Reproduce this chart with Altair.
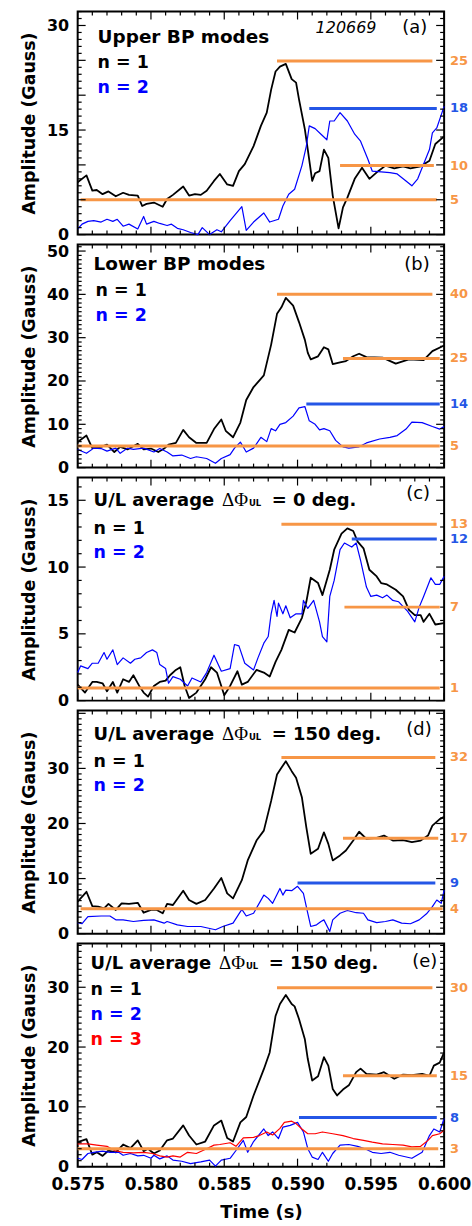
import altair as alt
import pandas as pd

FONT = "DejaVu Sans"
W, H = 368, 224
T_MIN, T_MAX = 0.575, 0.600
ORANGE = "#F79646"
BLUE_LEVEL = "#2456E6"
BLUE = "#0000FF"
RED = "#FF0000"

X_MAJOR = [0.575, 0.580, 0.585, 0.590, 0.595, 0.600]
X_MINOR = [0.576, 0.577, 0.578, 0.579, 0.581, 0.582, 0.583, 0.584, 0.586, 0.587,
           0.588, 0.589, 0.591, 0.592, 0.593, 0.594, 0.596, 0.597, 0.598, 0.599]

# ---------------- panel (a) ----------------
A_YMAX = 32
A_YLABELS = [0, 15, 30]
A_YMAJOR = [0, 5, 10, 15, 20, 25, 30]
A_N1_T = [0.5750, 0.5756, 0.5760, 0.5763, 0.5767, 0.5771, 0.5776, 0.5781, 0.5785, 0.5791,
          0.5794, 0.5797, 0.5802, 0.5808, 0.5811, 0.5815, 0.5822, 0.5826, 0.5830, 0.5834,
          0.5838, 0.5843, 0.5847, 0.5852, 0.5856, 0.5860, 0.5864, 0.5870, 0.5875, 0.5879,
          0.5882, 0.5885, 0.5888, 0.5892, 0.5896, 0.5899, 0.5901, 0.5905, 0.5907, 0.5910,
          0.5912, 0.5915, 0.5918, 0.5921, 0.5924, 0.5928, 0.5931, 0.5934, 0.5939, 0.5944,
          0.5949, 0.5955, 0.5960, 0.5966, 0.5972, 0.5977, 0.5984, 0.5990, 0.5994, 0.6000]
A_N1_V = [7.5, 8.5, 6.3, 6.4, 5.8, 6.2, 5.5, 6.0, 5.7, 5.6,
          4.1, 4.4, 4.6, 4.0, 5.1, 5.7, 6.9, 5.6, 5.8, 5.7,
          6.3, 7.7, 8.7, 7.2, 7.0, 9.1, 10.1, 12.7, 15.6, 17.5,
          20.8, 23.4, 24.1, 24.5, 22.3, 21.8, 19.4, 15.1, 12.2, 7.7,
          8.8, 9.1, 12.2, 11.0, 5.6, 0.9, 3.9, 5.3, 8.0, 9.6,
          8.0, 9.1, 9.9, 9.5, 9.8, 9.5, 9.8, 10.6, 13.0, 14.1]
A_N2_T = [0.5750, 0.5753, 0.5757, 0.5761, 0.5766, 0.5770, 0.5774, 0.5777, 0.5781, 0.5785,
          0.5791, 0.5795, 0.5797, 0.5802, 0.5806, 0.5811, 0.5814, 0.5818, 0.5822, 0.5827,
          0.5832, 0.5835, 0.5840, 0.5845, 0.5848, 0.5854, 0.5862, 0.5865, 0.5870, 0.5877,
          0.5881, 0.5887, 0.5890, 0.5894, 0.5898, 0.5903, 0.5906, 0.5908, 0.5912, 0.5916,
          0.5920, 0.5922, 0.5925, 0.5929, 0.5934, 0.5939, 0.5943, 0.5948, 0.5951, 0.5957,
          0.5963, 0.5968, 0.5974, 0.5978, 0.5982, 0.5985, 0.5990, 0.5992, 0.5995, 0.6000]
A_N2_V = [0.8, 1.5, 1.9, 2.0, 1.8, 2.2, 1.9, 2.2, 1.2, 1.5,
          0.8, 2.6, 1.5, 1.9, 1.6, 1.3, 1.5, 0.9, 0.7, 0.3,
          0.0, 1.0, 0.0, 0.7, 0.4, 2.0, 4.0, 0.6, 1.8, 3.1,
          1.8, 2.2, 4.1, 5.8, 6.5, 9.9, 12.7, 15.6, 15.2, 14.4,
          13.6, 16.3, 16.3, 17.5, 16.3, 14.4, 13.4, 10.8, 9.1, 9.0,
          8.9, 8.7, 7.7, 7.0, 8.0, 9.6, 12.2, 14.6, 15.3, 18.4]
A_ORANGE_V = [24.9, 9.9, 5.0]
A_ORANGE_T0 = [0.5886, 0.5929, 0.5752]
A_ORANGE_T1 = [0.5992, 0.5993, 0.5995]
A_ORANGE_LBL = ["25", "10", "5"]
A_BLUE_V = [18.1]
A_BLUE_T0 = [0.5908]
A_BLUE_T1 = [0.5995]
A_BLUE_LBL = ["18"]

# ---------------- panel (b) ----------------
B_YMAX = 51.5
B_YLABELS = [0, 10, 20, 30, 40, 50]
B_YMAJOR = [0, 10, 20, 30, 40, 50]
B_N1_T = [0.5750, 0.5756, 0.5760, 0.5766, 0.5770, 0.5775, 0.5779, 0.5784, 0.5791, 0.5795,
          0.5800, 0.5805, 0.5809, 0.5812, 0.5817, 0.5822, 0.5826, 0.5831, 0.5838, 0.5843,
          0.5848, 0.5851, 0.5856, 0.5861, 0.5865, 0.5870, 0.5877, 0.5882, 0.5886, 0.5889,
          0.5892, 0.5897, 0.5901, 0.5905, 0.5907, 0.5909, 0.5914, 0.5918, 0.5921, 0.5924,
          0.5929, 0.5933, 0.5938, 0.5942, 0.5947, 0.5958, 0.5967, 0.5976, 0.5986, 0.5992,
          0.6000]
B_N1_V = [5.9, 7.4, 4.5, 4.8, 5.3, 3.6, 4.8, 4.2, 5.5, 4.2,
          4.4, 3.6, 4.4, 5.3, 5.7, 8.7, 7.0, 5.7, 5.7, 8.9,
          11.1, 8.5, 7.0, 10.4, 15.6, 18.6, 21.3, 28.4, 35.5, 37.0,
          39.2, 37.4, 33.6, 29.5, 26.5, 25.0, 25.7, 27.8, 27.3, 23.9,
          24.3, 24.6, 25.7, 26.3, 25.5, 25.4, 24.0, 25.0, 24.8, 26.9,
          28.2]
B_N2_T = [0.5750, 0.5756, 0.5761, 0.5766, 0.5770, 0.5776, 0.5779, 0.5784, 0.5788, 0.5795,
          0.5802, 0.5806, 0.5811, 0.5815, 0.5821, 0.5827, 0.5831, 0.5838, 0.5844, 0.5848,
          0.5854, 0.5857, 0.5861, 0.5865, 0.5870, 0.5875, 0.5879, 0.5882, 0.5885, 0.5888,
          0.5892, 0.5897, 0.5901, 0.5905, 0.5908, 0.5912, 0.5915, 0.5918, 0.5922, 0.5926,
          0.5931, 0.5935, 0.5942, 0.5947, 0.5956, 0.5963, 0.5968, 0.5974, 0.5978, 0.5985,
          0.5992, 0.5997, 0.6000]
B_N2_V = [4.2, 3.3, 4.5, 4.4, 3.8, 4.5, 3.3, 4.5, 4.2, 4.5,
          3.6, 4.4, 3.6, 2.7, 2.9, 2.1, 2.5, 2.1, 1.0, 2.1,
          3.0, 4.5, 5.9, 3.6, 4.5, 7.0, 6.0, 9.0, 8.5, 10.0,
          10.4, 11.9, 13.8, 14.1, 10.8, 10.0, 8.7, 9.0, 8.5, 6.3,
          4.8, 4.5, 4.8, 5.7, 6.6, 7.0, 7.4, 8.9, 10.5, 10.4,
          9.5, 8.9, 9.5]
B_ORANGE_V = [40.0, 25.2, 5.0]
B_ORANGE_T0 = [0.5886, 0.5931, 0.5750]
B_ORANGE_T1 = [0.5992, 0.5997, 0.5997]
B_ORANGE_LBL = ["40", "25", "5"]
B_BLUE_V = [14.7]
B_BLUE_T0 = [0.5906]
B_BLUE_T1 = [0.5997]
B_BLUE_LBL = ["14"]

# ---------------- panel (c) ----------------
C_YMAX = 16.7
C_YLABELS = [0, 5, 10, 15]
C_YMAJOR = [0, 5, 10, 15]
C_N1_T = [0.5750, 0.5755, 0.5760, 0.5763, 0.5767, 0.5770, 0.5774, 0.5777, 0.5781, 0.5785,
          0.5788, 0.5792, 0.5795, 0.5798, 0.5802, 0.5806, 0.5810, 0.5813, 0.5817, 0.5820,
          0.5823, 0.5826, 0.5831, 0.5837, 0.5841, 0.5845, 0.5850, 0.5854, 0.5859, 0.5862,
          0.5866, 0.5872, 0.5877, 0.5881, 0.5885, 0.5889, 0.5894, 0.5898, 0.5903, 0.5906,
          0.5909, 0.5914, 0.5917, 0.5922, 0.5925, 0.5930, 0.5934, 0.5938, 0.5941, 0.5945,
          0.5949, 0.5954, 0.5957, 0.5961, 0.5967, 0.5972, 0.5976, 0.5980, 0.5984, 0.5986,
          0.5990, 0.5994, 0.6000]
C_N1_V = [1.2, 0.6, 1.4, 1.4, 1.3, 0.7, 1.4, 0.6, 1.6, 1.4,
          1.9, 1.1, 0.6, 0.3, 1.1, 1.4, 1.5, 1.9, 2.3, 2.5,
          1.1, 0.2, 0.6, 1.6, 2.5, 2.1, 0.4, 1.1, 2.2, 1.2,
          1.4, 2.3, 2.1, 1.8, 2.9, 3.8, 5.3, 5.1, 6.2, 7.4,
          9.2, 8.8, 7.9, 9.8, 11.3, 12.5, 12.9, 12.7, 11.9, 11.4,
          9.8, 9.3, 8.8, 8.7, 8.3, 7.8, 6.8, 6.4, 6.4, 5.9,
          6.5, 5.7, 5.8]
C_N2_T = [0.5750, 0.5752, 0.5757, 0.5760, 0.5764, 0.5768, 0.5770, 0.5774, 0.5777, 0.5781,
          0.5786, 0.5789, 0.5793, 0.5797, 0.5801, 0.5804, 0.5806, 0.5810, 0.5812, 0.5815,
          0.5820, 0.5825, 0.5828, 0.5834, 0.5838, 0.5843, 0.5848, 0.5854, 0.5857, 0.5860,
          0.5864, 0.5870, 0.5873, 0.5877, 0.5880, 0.5882, 0.5884, 0.5886, 0.5887, 0.5890,
          0.5892, 0.5895, 0.5899, 0.5903, 0.5904, 0.5907, 0.5911, 0.5915, 0.5917, 0.5920,
          0.5922, 0.5925, 0.5929, 0.5932, 0.5937, 0.5940, 0.5943, 0.5947, 0.5950, 0.5954,
          0.5958, 0.5961, 0.5965, 0.5969, 0.5975, 0.5980, 0.5983, 0.5986, 0.5991, 0.5994,
          0.5997, 0.6000]
C_N2_V = [2.1, 2.6, 2.4, 2.8, 2.8, 3.6, 3.1, 3.8, 2.7, 3.2,
          2.8, 3.1, 3.2, 3.6, 3.8, 3.6, 2.7, 2.4, 1.3, 1.8,
          1.6, 1.1, 1.7, 1.4, 2.1, 3.4, 2.2, 2.4, 4.2, 4.1,
          2.8, 2.3, 3.2, 4.3, 4.8, 6.5, 7.5, 6.3, 7.3, 6.5,
          7.1, 6.2, 6.5, 6.5, 7.5, 6.9, 7.5, 5.9, 4.8, 4.4,
          7.8, 9.0, 11.3, 11.8, 11.5, 11.8, 10.5, 8.5, 7.8, 7.9,
          7.7, 7.9, 7.5, 7.4, 6.7, 5.9, 7.0, 7.8, 9.2, 8.7,
          8.7, 9.3]
C_ORANGE_V = [13.2, 7.0, 0.95]
C_ORANGE_T0 = [0.5889, 0.5932, 0.5750]
C_ORANGE_T1 = [0.5995, 0.5997, 0.5997]
C_ORANGE_LBL = ["13", "7", "1"]
C_BLUE_V = [12.1]
C_BLUE_T0 = [0.5937]
C_BLUE_T1 = [0.5995]
C_BLUE_LBL = ["12"]

# ---------------- panel (d) ----------------
D_YMAX = 40.5
D_YLABELS = [0, 10, 20, 30]
D_YMAJOR = [0, 10, 20, 30, 40]
D_N1_T = [0.5750, 0.5756, 0.5760, 0.5764, 0.5768, 0.5771, 0.5776, 0.5780, 0.5785, 0.5791,
          0.5795, 0.5800, 0.5804, 0.5808, 0.5811, 0.5815, 0.5822, 0.5826, 0.5831, 0.5837,
          0.5843, 0.5848, 0.5852, 0.5856, 0.5862, 0.5866, 0.5872, 0.5877, 0.5882, 0.5886,
          0.5889, 0.5892, 0.5896, 0.5899, 0.5903, 0.5906, 0.5909, 0.5914, 0.5918, 0.5921,
          0.5924, 0.5929, 0.5933, 0.5938, 0.5942, 0.5947, 0.5954, 0.5959, 0.5965, 0.5972,
          0.5978, 0.5984, 0.5989, 0.5992, 0.5997, 0.6000]
D_N1_V = [5.8, 7.6, 5.0, 4.9, 4.6, 5.4, 4.3, 5.5, 5.4, 5.6,
          3.8, 4.3, 4.3, 3.7, 5.4, 5.2, 7.8, 6.1, 5.4, 6.1,
          8.2, 10.1, 7.3, 6.4, 9.7, 13.3, 16.9, 18.7, 24.1, 28.9,
          30.1, 31.3, 29.5, 28.3, 24.7, 19.3, 14.5, 15.4, 18.4, 16.3,
          13.3, 14.2, 15.1, 16.9, 18.5, 17.2, 17.4, 17.8, 16.9, 17.0,
          16.6, 16.9, 17.8, 19.6, 20.8, 21.2]
D_N2_T = [0.5750, 0.5753, 0.5757, 0.5766, 0.5772, 0.5776, 0.5781, 0.5788, 0.5795, 0.5802,
          0.5809, 0.5811, 0.5818, 0.5825, 0.5834, 0.5844, 0.5849, 0.5856, 0.5862, 0.5865,
          0.5870, 0.5877, 0.5880, 0.5883, 0.5888, 0.5890, 0.5892, 0.5896, 0.5900, 0.5904,
          0.5907, 0.5909, 0.5913, 0.5916, 0.5918, 0.5922, 0.5924, 0.5929, 0.5934, 0.5940,
          0.5945, 0.5948, 0.5954, 0.5960, 0.5965, 0.5971, 0.5977, 0.5983, 0.5988, 0.5992,
          0.5995, 0.5998, 0.6000]
D_N2_V = [2.0, 1.8, 3.1, 3.2, 3.2, 2.5, 2.5, 2.2, 2.4, 2.5,
          1.9, 2.2, 1.6, 1.3, 1.3, 0.7, 1.3, 1.9, 4.4, 3.2,
          3.7, 7.0, 6.4, 5.5, 8.2, 7.0, 7.9, 7.8, 8.6, 7.3,
          3.7, 1.3, 1.6, 2.2, 2.5, 0.4, 2.5, 3.7, 4.2, 3.8,
          3.7, 2.5, 2.0, 2.2, 2.5, 1.9, 1.8, 2.5, 3.6, 4.9,
          6.1, 5.5, 7.9]
D_ORANGE_V = [32.0, 17.3, 4.5]
D_ORANGE_T0 = [0.5889, 0.5931, 0.5752]
D_ORANGE_T1 = [0.5994, 0.5996, 0.5999]
D_ORANGE_LBL = ["32", "17", "4"]
D_BLUE_V = [9.2]
D_BLUE_T0 = [0.5900]
D_BLUE_T1 = [0.5994]
D_BLUE_LBL = ["9"]

# ---------------- panel (e) ----------------
E_YMAX = 37.3
E_YLABELS = [0, 10, 20, 30]
E_YMAJOR = [0, 10, 20, 30]
E_N1_T = [0.5750, 0.5756, 0.5760, 0.5763, 0.5767, 0.5771, 0.5776, 0.5781, 0.5786, 0.5791,
          0.5795, 0.5798, 0.5802, 0.5806, 0.5811, 0.5815, 0.5822, 0.5826, 0.5831, 0.5837,
          0.5843, 0.5848, 0.5852, 0.5856, 0.5861, 0.5865, 0.5870, 0.5877, 0.5881, 0.5885,
          0.5888, 0.5892, 0.5896, 0.5898, 0.5901, 0.5905, 0.5907, 0.5910, 0.5914, 0.5918,
          0.5921, 0.5924, 0.5927, 0.5931, 0.5935, 0.5940, 0.5943, 0.5947, 0.5954, 0.5959,
          0.5966, 0.5972, 0.5978, 0.5985, 0.5990, 0.5993, 0.5997, 0.6000]
E_N1_V = [4.1, 4.6, 2.0, 2.4, 1.8, 2.7, 2.4, 3.7, 3.1, 4.4,
          2.6, 3.0, 2.2, 2.7, 4.4, 4.7, 6.9, 5.2, 3.7, 4.2,
          6.9, 7.7, 4.8, 4.2, 7.4, 8.3, 11.9, 16.3, 19.1, 25.2,
          27.2, 28.7, 27.2, 26.8, 24.7, 21.3, 18.0, 14.4, 15.1, 18.3,
          16.9, 13.0, 11.9, 12.9, 13.6, 15.8, 16.4, 15.5, 15.4, 15.8,
          14.7, 15.4, 15.3, 15.5, 15.2, 16.9, 17.4, 19.1]
E_N2_T = [0.5750, 0.5753, 0.5757, 0.5761, 0.5767, 0.5772, 0.5778, 0.5781, 0.5786, 0.5791,
          0.5795, 0.5800, 0.5802, 0.5806, 0.5811, 0.5815, 0.5821, 0.5827, 0.5834, 0.5840,
          0.5844, 0.5848, 0.5854, 0.5858, 0.5863, 0.5866, 0.5870, 0.5877, 0.5880, 0.5883,
          0.5887, 0.5890, 0.5895, 0.5900, 0.5904, 0.5907, 0.5910, 0.5914, 0.5917, 0.5921,
          0.5924, 0.5929, 0.5935, 0.5941, 0.5946, 0.5951, 0.5957, 0.5963, 0.5969, 0.5978,
          0.5985, 0.5990, 0.5993, 0.5997, 0.6000]
E_N2_V = [1.4, 1.2, 2.2, 2.4, 2.6, 2.4, 2.4, 1.9, 2.2, 1.8,
          1.9, 1.4, 1.9, 1.3, 1.8, 1.1, 0.9, 0.5, 0.8, 1.1,
          0.1, 1.1, 1.4, 2.7, 4.4, 2.4, 4.2, 6.3, 5.2, 5.8,
          4.7, 6.6, 6.9, 7.4, 5.8, 3.0, 1.6, 1.2, 2.4, 0.9,
          2.2, 3.6, 3.7, 3.4, 3.0, 2.4, 2.2, 2.4, 1.9, 1.4,
          2.4, 5.2, 6.3, 5.8, 8.1]
E_N3_T = [0.5750, 0.5757, 0.5763, 0.5770, 0.5775, 0.5781, 0.5788, 0.5795, 0.5801, 0.5806,
          0.5811, 0.5815, 0.5820, 0.5825, 0.5831, 0.5838, 0.5843, 0.5847, 0.5854, 0.5858,
          0.5863, 0.5870, 0.5874, 0.5879, 0.5883, 0.5888, 0.5891, 0.5896, 0.5899, 0.5903,
          0.5907, 0.5912, 0.5917, 0.5924, 0.5931, 0.5938, 0.5945, 0.5951, 0.5958, 0.5965,
          0.5972, 0.5978, 0.5984, 0.5989, 0.5992, 0.5997, 0.6000]
E_N3_V = [3.8, 3.8, 3.6, 3.4, 2.7, 2.4, 2.3, 2.4, 2.2, 1.8,
          1.6, 1.8, 1.6, 2.4, 2.2, 3.0, 3.6, 3.7, 4.0, 3.4,
          4.8, 4.9, 5.2, 5.8, 5.3, 6.4, 7.4, 7.6, 7.2, 6.3,
          5.5, 5.5, 5.8, 5.5, 5.2, 4.7, 4.4, 4.1, 3.8, 3.7,
          3.6, 3.3, 3.4, 4.4, 5.2, 5.5, 6.1]
E_ORANGE_V = [29.9, 15.2, 3.0]
E_ORANGE_T0 = [0.5886, 0.5931, 0.5750]
E_ORANGE_T1 = [0.5992, 0.5995, 0.5996]
E_ORANGE_LBL = ["30", "15", "3"]
E_BLUE_V = [8.2]
E_BLUE_T0 = [0.5901]
E_BLUE_T1 = [0.5995]
E_BLUE_LBL = ["8"]


def text_layer(s, x, y, size=17.5, color="black", weight="bold", style="normal",
               font=FONT, align="left"):
    return alt.Chart(pd.DataFrame({"s": [s]})).mark_text(
        font=font, fontSize=size, fontWeight=weight, fontStyle=style, color=color,
        align=align, baseline="alphabetic").encode(
        text="s:N", x=alt.value(x), y=alt.value(y))


def make_panel(ymax, ylabels, ymajor, series, levels, texts, show_x):
    xsc = alt.Scale(domain=[T_MIN, T_MAX], nice=False, zero=False)
    ysc = alt.Scale(domain=[0, ymax], nice=False, zero=False)
    yax = alt.Axis(values=ylabels, title="Amplitude (Gauss)", ticks=False, tickSize=0,
                   domain=False, grid=False, labelFont=FONT, labelFontWeight="bold",
                   labelFontSize=16, labelColor="black", labelPadding=9,
                   labelOverlap=False, titleFont=FONT, titleFontWeight="bold",
                   titleFontSize=17.5, titleColor="black", titlePadding=8)
    if show_x:
        xax = alt.Axis(values=X_MAJOR, format=".3f", title="Time (s)", ticks=False,
                       tickSize=0, domain=False, grid=False, labelFlush=False,
                       labelFont=FONT, labelFontWeight="bold", labelFontSize=17,
                       labelColor="black", labelPadding=10, labelOverlap=False,
                       titleFont=FONT, titleFontWeight="bold", titleFontSize=18,
                       titleColor="black", titlePadding=11)
    else:
        xax = None

    def X(field):
        return alt.X(field, scale=xsc, axis=xax)

    def Y(field):
        return alt.Y(field, scale=ysc, axis=yax)

    layers = []
    for (t, v, color, sw) in series:
        df = pd.DataFrame({"t": t, "v": v})
        layers.append(alt.Chart(df).mark_line(color=color, strokeWidth=sw, strokeJoin="round").encode(
            x=X("t:Q"), y=Y("v:Q")))

    for (t0, t1, v, lbl, color) in levels:
        df = pd.DataFrame({"t0": t0, "t1": t1, "v": v, "lbl": lbl})
        layers.append(alt.Chart(df).mark_rule(color=color, strokeWidth=3, strokeCap="butt").encode(
            x=X("t0:Q"), x2="t1:Q", y=Y("v:Q")))
        layers.append(alt.Chart(df).mark_text(
            color=color, font=FONT, fontWeight="bold", fontSize=13, align="left",
            baseline="middle").encode(
            x=alt.value(W + 6), y=Y("v:Q"), text="lbl:N"))

    for tx in texts:
        layers.append(text_layer(*tx[:3], **tx[3]))

    # inward ticks (box style)
    yminor = [k for k in range(0, int(ymax) + 1) if k not in ymajor]
    for vals, L in ((X_MAJOR, 8), (X_MINOR, 4)):
        df = pd.DataFrame({"t": vals})
        base = alt.Chart(df).mark_rule(color="black", strokeWidth=1.2)
        layers.append(base.encode(x=X("t:Q"), y=alt.value(H), y2=alt.value(H - L)))
        layers.append(base.encode(x=X("t:Q"), y=alt.value(0), y2=alt.value(L)))
    for vals, L in ((ymajor, 8), (yminor, 4)):
        df = pd.DataFrame({"v": vals})
        base = alt.Chart(df).mark_rule(color="black", strokeWidth=1.2)
        layers.append(base.encode(y=Y("v:Q"), x=alt.value(0), x2=alt.value(L)))
        layers.append(base.encode(y=Y("v:Q"), x=alt.value(W - L), x2=alt.value(W)))
    return alt.layer(*layers).properties(width=W, height=H)


def dphi_title(deg_text, x0, y):
    return [
        ("U/L average", x0, y, dict(size=18)),
        ("\u0394\u03a6", x0 + 129, y, dict(size=19, weight="normal", font="Liberation Serif")),
        ("UL", x0 + 156, y, dict(size=8.5)),
        (deg_text, x0 + 179, y, dict(size=18)),
    ]


panel_a = make_panel(
    A_YMAX, A_YLABELS, A_YMAJOR,
    [(A_N1_T, A_N1_V, "black", 1.8), (A_N2_T, A_N2_V, BLUE, 1.2)],
    [(A_ORANGE_T0, A_ORANGE_T1, A_ORANGE_V, A_ORANGE_LBL, ORANGE),
     (A_BLUE_T0, A_BLUE_T1, A_BLUE_V, A_BLUE_LBL, BLUE_LEVEL)],
    [("Upper BP modes", 20, 31.5, dict(size=18.5)),
     ("n = 1", 20, 56.5, dict()),
     ("n = 2", 20, 81.5, dict(color=BLUE)),
     ("120669", 300, 22, dict(size=16, weight="normal", style="italic", align="right")),
     ("(a)", 326, 22, dict(size=18, weight="normal"))],
    False)

panel_b = make_panel(
    B_YMAX, B_YLABELS, B_YMAJOR,
    [(B_N1_T, B_N1_V, "black", 1.8), (B_N2_T, B_N2_V, BLUE, 1.2)],
    [(B_ORANGE_T0, B_ORANGE_T1, B_ORANGE_V, B_ORANGE_LBL, ORANGE),
     (B_BLUE_T0, B_BLUE_T1, B_BLUE_V, B_BLUE_LBL, BLUE_LEVEL)],
    [("Lower BP modes", 16, 26, dict(size=18.5)),
     ("n = 1", 18, 52, dict()),
     ("n = 2", 18, 77, dict(color=BLUE)),
     ("(b)", 328, 25.5, dict(size=18, weight="normal"))],
    False)

panel_c = make_panel(
    C_YMAX, C_YLABELS, C_YMAJOR,
    [(C_N1_T, C_N1_V, "black", 1.8), (C_N2_T, C_N2_V, BLUE, 1.2)],
    [(C_ORANGE_T0, C_ORANGE_T1, C_ORANGE_V, C_ORANGE_LBL, ORANGE),
     (C_BLUE_T0, C_BLUE_T1, C_BLUE_V, C_BLUE_LBL, BLUE_LEVEL)],
    dphi_title("= 0 deg.", 16, 28.5) +
    [("n = 1", 16, 56.5, dict()),
     ("n = 2", 16, 80.5, dict(color=BLUE)),
     ("(c)", 330, 22, dict(size=18, weight="normal"))],
    False)

panel_d = make_panel(
    D_YMAX, D_YLABELS, D_YMAJOR,
    [(D_N1_T, D_N1_V, "black", 1.8), (D_N2_T, D_N2_V, BLUE, 1.2)],
    [(D_ORANGE_T0, D_ORANGE_T1, D_ORANGE_V, D_ORANGE_LBL, ORANGE),
     (D_BLUE_T0, D_BLUE_T1, D_BLUE_V, D_BLUE_LBL, BLUE_LEVEL)],
    dphi_title("= 150 deg.", 16, 29.5) +
    [("n = 1", 16, 57, dict()),
     ("n = 2", 16, 81, dict(color=BLUE)),
     ("(d)", 330, 25, dict(size=18, weight="normal"))],
    False)

panel_e = make_panel(
    E_YMAX, E_YLABELS, E_YMAJOR,
    [(E_N1_T, E_N1_V, "black", 1.8), (E_N2_T, E_N2_V, BLUE, 1.2), (E_N3_T, E_N3_V, RED, 1.2)],
    [(E_ORANGE_T0, E_ORANGE_T1, E_ORANGE_V, E_ORANGE_LBL, ORANGE),
     (E_BLUE_T0, E_BLUE_T1, E_BLUE_V, E_BLUE_LBL, BLUE_LEVEL)],
    dphi_title("= 150 deg.", 13, 26) +
    [("n = 1", 13, 52, dict()),
     ("n = 2", 13, 77, dict(color=BLUE)),
     ("n = 3", 13, 102, dict(color=RED)),
     ("(e)", 336, 23.5, dict(size=18, weight="normal"))],
    True)

chart = alt.vconcat(panel_a, panel_b, panel_c, panel_d, panel_e,
                    spacing=10, bounds="flush").properties(
    padding={"left": 19, "top": 7, "right": 0, "bottom": 0}
).configure_view(stroke="black", strokeWidth=2)

chart.save("out.html", embed_options={"renderer": "svg", "actions": False})
